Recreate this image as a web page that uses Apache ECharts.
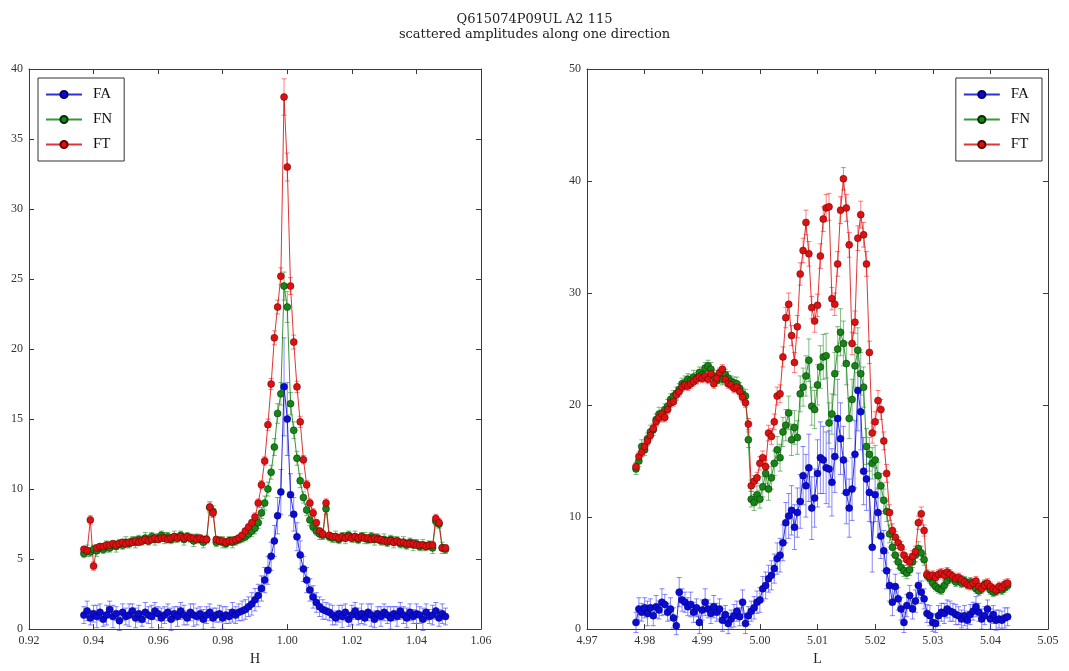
<!DOCTYPE html>
<html>
<head>
<meta charset="utf-8">
<script src="https://cdn.jsdelivr.net/npm/echarts@6/dist/echarts.min.js"></script>
<style>
  html, body { margin: 0; padding: 0; background: #fff; }
  #chart { width: 1069px; height: 671px; }
</style>
</head>
<body>
<div id="chart"></div>
<script>
// ---- left panel: scan along H ----
const hVals = [0.937,0.938,0.939,0.940,0.941,0.942,0.943,0.944,0.945,0.946,0.947,0.948,0.949,0.950,0.951,0.952,0.953,0.954,0.955,0.956,
  0.957,0.958,0.959,0.960,0.961,0.962,0.963,0.964,0.965,0.966,0.967,0.968,0.969,0.970,0.971,0.972,0.973,0.974,0.975,0.976,
  0.977,0.978,0.979,0.980,0.981,0.982,0.983,0.984,0.985,0.986,0.987,0.988,0.989,0.990,0.991,0.992,0.993,0.994,0.995,0.996,
  0.997,0.998,0.999,1.000,1.001,1.002,1.003,1.004,1.005,1.006,1.007,1.008,1.009,1.010,1.011,1.012,1.013,1.014,1.015,1.016,
  1.017,1.018,1.019,1.020,1.021,1.022,1.023,1.024,1.025,1.026,1.027,1.028,1.029,1.030,1.031,1.032,1.033,1.034,1.035,1.036,
  1.037,1.038,1.039,1.040,1.041,1.042,1.043,1.044,1.045,1.046,1.047,1.048,1.049];

const faH = [1.0,1.3,0.8,1.1,0.9,1.2,0.7,1.0,1.4,0.9, 1.1,0.6,1.2,0.9,1.0,1.3,0.8,1.1,0.7,1.2,
  1.0,0.9,1.3,1.1,0.8,1.0,1.2,0.7,1.1,0.9, 1.3,1.0,0.8,1.2,1.0,0.9,1.1,0.7,1.0,1.2,
  0.8,1.0,1.1,0.8,1.0,0.9,1.2,1.0,1.2,1.3, 1.4,1.6,1.8,2.1,2.4,2.9,3.5,4.2,5.2,6.3,
  8.1,9.8,17.3,15.0,9.6,8.2,6.6,5.3,4.3,3.5, 2.8,2.3,1.9,1.6,1.4,1.3,1.2,1.0,0.8,1.1,
  0.9,1.2,0.7,1.0,1.3,0.9,1.1,0.8,1.2,1.0, 0.7,1.1,0.9,1.2,1.0,0.8,1.1,0.9,1.3,1.0,
  0.8,1.2,0.9,1.1,1.0,0.7,1.2,0.9,1.0,1.3, 0.8,1.1,0.9];
const fnH = [5.4,5.6,5.5,5.7,5.6,5.8,5.7,5.9,5.8,6.0, 5.9,6.1,6.0,6.2,6.1,6.3,6.2,6.4,6.3,6.5,
  6.3,6.6,6.4,6.5,6.7,6.5,6.6,6.4,6.6,6.5, 6.7,6.4,6.6,6.5,6.3,6.5,6.4,6.2,6.4,8.7,
  8.4,6.2,6.3,6.2,6.1,6.3,6.2,6.3,6.4,6.5, 6.6,6.8,7.0,7.2,7.6,8.3,9.0,10.0,11.2,13.0,
  15.4,16.8,24.5,23.0,16.1,14.2,12.2,10.6,9.4,8.5, 7.8,7.3,7.0,6.8,6.7,8.6,6.6,6.5,6.6,6.4,
  6.6,6.5,6.7,6.5,6.6,6.4,6.6,6.5,6.4,6.6, 6.4,6.5,6.3,6.4,6.2,6.4,6.2,6.3,6.1,6.2,
  6.0,6.2,6.0,6.1,5.9,6.0,5.9,6.0,5.8,7.7, 7.5,5.8,5.7];
const ftH = [5.7,5.6,7.8,4.5,5.8,5.9,5.9,6.0,6.0,6.1, 6.0,6.1,6.2,6.1,6.2,6.2,6.3,6.2,6.3,6.4,
  6.3,6.4,6.5,6.4,6.5,6.5,6.4,6.5,6.6,6.5, 6.6,6.5,6.6,6.5,6.5,6.4,6.5,6.4,6.4,8.7,
  8.3,6.4,6.3,6.3,6.2,6.3,6.3,6.4,6.5,6.7, 7.0,7.3,7.6,8.0,9.0,10.3,12.0,14.6,17.5,20.8,
  23.0,25.2,38.0,33.0,24.5,20.5,17.3,14.8,12.1,10.3, 9.0,8.3,7.6,7.0,6.8,9.0,6.7,6.6,6.6,6.5,
  6.6,6.5,6.6,6.5,6.6,6.5,6.6,6.5,6.5,6.4, 6.5,6.4,6.4,6.3,6.3,6.3,6.2,6.3,6.2,6.2,
  6.1,6.1,6.1,6.0,6.0,6.0,5.9,6.0,6.0,7.9, 7.6,5.8,5.8];

const errFaH = [0.6,0.7,0.5,0.6,0.8,0.6,0.5,0.7,0.6,0.8, 0.5,0.7,0.6,0.6,0.8,0.5,0.7,0.6,0.5,0.7,
  0.6,0.8,0.6,0.5,0.7,0.6,0.6,0.8,0.5,0.7, 0.6,0.7,0.5,0.6,0.8,0.6,0.5,0.7,0.6,0.6,
  0.7,0.5,0.6,0.8,0.6,0.5,0.7,0.6,0.6,0.7, 0.7,0.7,0.8,0.8,0.8,0.9,0.9,1.0,1.0,1.1,
  1.3,1.6,3.5,2.6,1.5,1.2,1.0,1.0,0.9,0.9, 0.8,0.8,0.7,0.7,0.7,0.6,0.6,0.7,0.5,0.6,
  0.8,0.6,0.5,0.7,0.6,0.6,0.7,0.5,0.6,0.8, 0.6,0.5,0.7,0.6,0.6,0.8,0.5,0.7,0.6,0.6,
  0.7,0.6,0.5,0.7,0.6,0.8,0.6,0.5,0.7,0.6, 0.6,0.7,0.6];
const errFnH = [0.3,0.4,0.3,0.3,0.4,0.3,0.3,0.4,0.3,0.3, 0.4,0.3,0.3,0.4,0.3,0.3,0.4,0.3,0.3,0.4,
  0.3,0.3,0.4,0.3,0.3,0.4,0.3,0.3,0.4,0.3, 0.3,0.4,0.3,0.3,0.4,0.3,0.3,0.4,0.3,0.4,
  0.4,0.3,0.3,0.4,0.3,0.3,0.4,0.3,0.3,0.3, 0.3,0.3,0.4,0.4,0.4,0.4,0.5,0.5,0.5,0.6,
  0.7,0.8,1.0,1.1,0.8,0.6,0.5,0.5,0.4,0.4, 0.4,0.3,0.3,0.4,0.3,0.4,0.3,0.3,0.4,0.3,
  0.3,0.4,0.3,0.3,0.4,0.3,0.3,0.4,0.3,0.3, 0.4,0.3,0.3,0.4,0.3,0.3,0.4,0.3,0.3,0.4,
  0.3,0.3,0.4,0.3,0.3,0.4,0.3,0.3,0.4,0.3, 0.3,0.4,0.3];
const errFtH = [0.2,0.2,0.3,0.3,0.2,0.2,0.2,0.2,0.2,0.2, 0.2,0.2,0.2,0.2,0.2,0.2,0.2,0.2,0.2,0.2,
  0.2,0.2,0.2,0.2,0.2,0.2,0.2,0.2,0.2,0.2, 0.2,0.2,0.2,0.2,0.2,0.2,0.2,0.2,0.2,0.3,
  0.3,0.2,0.2,0.2,0.2,0.2,0.2,0.2,0.2,0.2, 0.2,0.2,0.2,0.3,0.3,0.3,0.3,0.4,0.4,0.5,
  0.5,0.6,1.3,1.0,0.6,0.5,0.4,0.4,0.3,0.3, 0.3,0.3,0.2,0.2,0.2,0.3,0.2,0.2,0.2,0.2,
  0.2,0.2,0.2,0.2,0.2,0.2,0.2,0.2,0.2,0.2, 0.2,0.2,0.2,0.2,0.2,0.2,0.2,0.2,0.2,0.2,
  0.2,0.2,0.2,0.2,0.2,0.2,0.2,0.2,0.2,0.3, 0.3,0.2,0.2];

// ---- right panel: scan along L ----
const lVals = [4.9785,4.9790,4.9795,4.9800,4.9805,4.9810,4.9815,4.9820,4.9825,4.9830,
  4.9835,4.9840,4.9845,4.9850,4.9855,4.9860,4.9865,4.9870,4.9875,4.9880,
  4.9885,4.9890,4.9895,4.9900,4.9905,4.9910,4.9915,4.9920,4.9925,4.9930,
  4.9935,4.9940,4.9945,4.9950,4.9955,4.9960,4.9965,4.9970,4.9975,4.9980,
  4.9985,4.9990,4.9995,5.0000,5.0005,5.0010,5.0015,5.0020,5.0025,5.0030,
  5.0035,5.0040,5.0045,5.0050,5.0055,5.0060,5.0065,5.0070,5.0075,5.0080,
  5.0085,5.0090,5.0095,5.0100,5.0105,5.0110,5.0115,5.0120,5.0125,5.0130,
  5.0135,5.0140,5.0145,5.0150,5.0155,5.0160,5.0165,5.0170,5.0175,5.0180,
  5.0185,5.0190,5.0195,5.0200,5.0205,5.0210,5.0215,5.0220,5.0225,5.0230,
  5.0235,5.0240,5.0245,5.0250,5.0255,5.0260,5.0265,5.0270,5.0275,5.0280,
  5.0285,5.0290,5.0295,5.0300,5.0305,5.0310,5.0315,5.0320,5.0325,5.0330,
  5.0335,5.0340,5.0345,5.0350,5.0355,5.0360,5.0365,5.0370,5.0375,5.0380,
  5.0385,5.0390,5.0395,5.0400,5.0405,5.0410,5.0415,5.0420,5.0425,5.0430];

const faL = [0.6,1.8,1.5,1.9,1.4,1.9,1.2,2.0,1.7,2.4, 2.2,1.5,1.8,1.0,0.3,3.3,2.6,2.4,2.0,2.2,
  1.5,1.9,0.6,1.7,2.4,1.8,1.4,2.0,1.5,1.8, 0.8,1.3,0.5,0.9,1.2,1.6,1.1,2.4,0.5,1.2,
  1.6,1.9,2.4,2.6,3.6,3.9,4.5,4.8,5.4,6.3, 6.6,7.7,9.5,10.1,10.6,9.1,10.4,11.4,13.7,12.8,
  14.4,10.8,11.7,13.9,15.3,15.1,14.4,14.3,13.1,15.4, 18.8,17.0,15.1,12.2,10.8,12.5,15.6,21.3,19.4,14.1,
  13.4,12.2,7.3,12.0,10.4,8.3,7.0,5.2,3.9,2.4, 3.8,2.7,1.8,0.6,2.1,3.0,1.8,2.5,3.9,3.3,
  2.7,1.4,1.2,0.6,0.5,1.2,1.5,1.4,1.8,1.6, 1.5,1.3,1.2,0.9,1.2,0.8,1.3,1.6,2.0,1.5,
  0.9,1.2,1.8,0.9,1.3,0.8,0.9,0.8,1.0,1.1];
const fnL = [14.3,15.0,16.3,16.0,17.0,17.6,17.8,18.7,19.2,19.0, 19.6,19.9,20.5,20.8,21.0,21.4,21.9,22.0,22.3,22.2,
  22.5,22.4,22.9,22.7,23.3,23.5,23.2,22.6,22.2,22.5, 22.3,22.7,22.4,22.1,22.0,21.9,21.5,21.0,20.8,16.9,
  11.6,11.3,12.0,11.6,12.7,13.9,12.5,13.5,14.8,16.0, 15.3,17.6,18.2,19.3,16.9,18.0,17.1,21.0,21.6,22.6,
  24.0,19.9,19.6,21.8,23.4,24.3,24.4,18.4,19.2,22.8, 25.0,26.5,25.5,23.7,18.8,20.5,23.5,24.9,22.8,21.6,
  16.3,15.6,14.8,15.1,13.7,12.8,11.5,10.5,8.5,7.3, 6.6,6.0,5.5,5.2,5.0,5.3,6.0,6.6,7.2,6.8,
  6.2,4.8,4.5,4.1,3.8,3.6,3.5,3.9,4.3,4.6, 4.5,4.2,4.4,4.1,4.3,4.0,4.2,3.9,3.6,3.4,
  3.7,4.0,3.8,3.5,3.3,3.4,3.6,3.5,3.7,3.9];
const ftL = [14.5,15.4,15.8,16.3,16.8,17.3,17.9,18.5,18.9,19.2, 18.9,19.6,20.2,20.3,20.9,21.2,21.6,21.8,21.7,21.9,
  22.1,22.3,22.5,22.4,22.6,22.3,22.8,21.9,22.4,22.9, 23.2,22.3,21.9,21.8,21.5,21.6,21.2,20.7,20.2,18.3,
  12.8,13.2,13.5,14.8,15.3,14.5,17.5,17.2,18.5,20.8, 21.0,24.3,27.8,29.0,26.2,23.8,27.0,31.7,33.8,36.3,
  33.5,28.7,27.5,28.9,33.3,36.6,37.6,37.7,29.5,29.0, 32.6,37.4,40.2,37.6,34.3,25.5,27.4,34.9,37.0,35.2,
  32.6,24.7,17.5,18.5,20.4,19.6,16.8,13.9,10.4,8.8, 8.2,7.7,7.3,6.6,6.2,6.0,6.5,6.9,9.5,10.3,
  8.8,4.9,4.7,4.8,4.6,4.9,5.0,4.8,5.1,4.9, 4.7,4.5,4.6,4.4,4.2,4.0,3.9,4.1,4.3,3.8,
  3.6,3.9,4.1,3.8,3.6,3.5,3.8,3.7,4.0,4.1];

const errFaL = [0.9,1.0,0.8,0.9,1.1,0.8,0.9,1.0,0.8,1.2, 0.9,0.8,1.0,0.9,0.8,1.3,1.0,0.9,0.8,1.1,
  0.9,0.8,1.0,0.9,1.2,0.8,0.9,1.0,0.8,0.9, 1.0,0.8,0.9,0.8,1.0,0.9,0.8,1.1,0.9,0.8,
  0.9,1.0,1.0,1.1,1.1,1.2,1.2,1.3,1.3,1.4, 1.5,1.6,1.8,2.0,2.2,2.0,2.2,2.4,2.6,2.8,
  3.0,2.8,2.6,3.0,3.2,3.0,3.2,3.4,3.0,3.2, 3.5,3.2,3.0,2.8,2.6,2.8,3.0,3.6,3.4,3.0,
  2.8,2.6,2.2,2.4,2.2,2.0,1.8,1.6,1.4,1.2, 1.1,1.0,1.0,0.9,1.0,0.9,0.9,1.0,1.1,1.0,
  0.9,0.8,0.9,0.8,0.8,0.9,0.8,0.9,0.8,0.9, 0.8,0.9,0.8,0.8,0.9,0.8,0.9,0.8,0.9,0.8,
  0.9,0.8,0.8,0.9,0.8,0.9,0.8,0.8,0.9,0.8];
const errFnL = [0.5,0.5,0.6,0.5,0.5,0.6,0.5,0.5,0.6,0.5, 0.5,0.6,0.5,0.5,0.6,0.5,0.5,0.6,0.5,0.5,
  0.6,0.5,0.5,0.6,0.5,0.5,0.6,0.5,0.5,0.6, 0.5,0.5,0.6,0.5,0.5,0.6,0.5,0.5,0.6,0.7,
  0.7,0.7,0.8,0.8,0.9,0.9,1.0,1.0,1.1,1.2, 1.2,1.3,1.4,1.5,1.4,1.5,1.5,1.6,1.7,1.8,
  1.9,1.7,1.7,1.8,1.9,2.0,2.0,1.8,1.8,1.9, 2.0,2.1,2.0,1.9,1.8,1.8,1.9,2.0,1.9,1.8,
  1.6,1.5,1.4,1.3,1.2,1.1,1.0,0.9,0.8,0.7, 0.6,0.6,0.5,0.5,0.5,0.5,0.5,0.6,0.6,0.6,
  0.5,0.4,0.4,0.4,0.4,0.4,0.4,0.4,0.4,0.4, 0.4,0.4,0.4,0.4,0.4,0.4,0.4,0.4,0.4,0.4,
  0.4,0.4,0.4,0.4,0.4,0.4,0.4,0.4,0.4,0.4];
const errFtL = [0.4,0.4,0.4,0.4,0.4,0.4,0.4,0.4,0.4,0.4, 0.4,0.4,0.4,0.4,0.4,0.4,0.4,0.4,0.4,0.4,
  0.4,0.4,0.4,0.4,0.4,0.4,0.4,0.4,0.4,0.4, 0.4,0.4,0.4,0.4,0.4,0.4,0.4,0.4,0.4,0.5,
  0.5,0.5,0.5,0.6,0.6,0.6,0.7,0.7,0.7,0.8, 0.8,0.9,0.9,1.0,0.9,0.9,1.0,1.0,1.1,1.1,
  1.1,1.0,1.0,1.0,1.1,1.1,1.2,1.2,1.0,1.0, 1.1,1.2,1.0,1.2,1.1,1.0,1.0,1.1,1.2,1.1,
  1.1,1.0,0.9,0.9,0.9,0.9,0.8,0.8,0.7,0.6, 0.5,0.5,0.5,0.5,0.5,0.5,0.5,0.5,0.6,0.6,
  0.5,0.4,0.4,0.4,0.4,0.4,0.4,0.4,0.4,0.4, 0.4,0.4,0.4,0.4,0.4,0.4,0.4,0.4,0.4,0.4,
  0.4,0.4,0.4,0.4,0.4,0.4,0.4,0.4,0.4,0.4];

const seriesNames = ['FA', 'FN', 'FT'];
const fillColors = ['#0b0bd6', '#168416', '#dc1212'];
const edgeColors = ['#000060', '#003000', '#600000'];
const errColors = ['rgba(40,40,255,0.55)', 'rgba(0,128,0,0.5)', 'rgba(255,0,0,0.5)'];

const serif = 'Liberation Serif';
const frame = '#3a3a3a';

function pts(xs, ys) {
  return xs.map((x, i) => [x, ys[i]]);
}
function errPts(xs, ys, es) {
  return xs.map((x, i) => [x, +(ys[i] - es[i]).toFixed(2), +(ys[i] + es[i]).toFixed(2)]);
}

function errRenderer(color) {
  return function (params, api) {
    const lo = api.coord([api.value(0), api.value(1)]);
    const hi = api.coord([api.value(0), api.value(2)]);
    const st = { stroke: color, lineWidth: 1 };
    return {
      type: 'group',
      children: [
        { type: 'line', shape: { x1: lo[0], y1: lo[1], x2: hi[0], y2: hi[1] }, style: st },
        { type: 'line', shape: { x1: lo[0] - 2.5, y1: lo[1], x2: lo[0] + 2.5, y2: lo[1] }, style: st },
        { type: 'line', shape: { x1: hi[0] - 2.5, y1: hi[1], x2: hi[0] + 2.5, y2: hi[1] }, style: st }
      ]
    };
  };
}

function panelSeries(xs, ysList, errList, axisIdx) {
  const out = [];
  for (let k = 0; k < 3; k++) {
    out.push({
      name: seriesNames[k] + ' err',
      type: 'custom',
      xAxisIndex: axisIdx,
      yAxisIndex: axisIdx,
      renderItem: errRenderer(errColors[k]),
      encode: { x: 0, y: [1, 2] },
      data: errPts(xs, ysList[k], errList[k]),
      silent: true,
      z: 2
    });
    out.push({
      name: seriesNames[k],
      type: 'line',
      xAxisIndex: axisIdx,
      yAxisIndex: axisIdx,
      data: pts(xs, ysList[k]),
      symbol: 'circle',
      symbolSize: 7,
      showAllSymbol: true,
      lineStyle: { color: fillColors[k], width: 1, opacity: 0.85 },
      itemStyle: { color: fillColors[k], borderColor: edgeColors[k], borderWidth: 0.5 },
      z: 2
    });
  }
  return out;
}

function xAxisPair(gridIndex, min, max, step, name) {
  const common = {
    type: 'value', gridIndex: gridIndex, min: min, max: max, interval: step,
    splitLine: { show: false },
    axisLine: { show: true, onZero: false, lineStyle: { color: frame, width: 1 } },
    axisTick: { show: true, inside: true, length: 5, lineStyle: { color: frame } }
  };
  return [
    Object.assign({}, common, {
      position: 'bottom',
      name: name, nameLocation: 'middle', nameGap: 22,
      nameTextStyle: { fontFamily: serif, fontSize: 14, color: '#222' },
      axisLabel: {
        fontFamily: serif, fontSize: 12, color: '#333', margin: 6,
        formatter: v => v.toFixed(2)
      }
    }),
    Object.assign({}, common, { position: 'top', axisLabel: { show: false } })
  ];
}

function yAxisPair(gridIndex, max, step) {
  const common = {
    type: 'value', gridIndex: gridIndex, min: 0, max: max, interval: step,
    splitLine: { show: false },
    axisLine: { show: true, onZero: false, lineStyle: { color: frame, width: 1 } },
    axisTick: { show: true, inside: true, length: 5, lineStyle: { color: frame } }
  };
  return [
    Object.assign({}, common, {
      position: 'left',
      axisLabel: { fontFamily: serif, fontSize: 12, color: '#333', margin: 6 }
    }),
    Object.assign({}, common, { position: 'right', axisLabel: { show: false } })
  ];
}

function legendBox(pos) {
  return Object.assign({
    data: seriesNames,
    orient: 'vertical',
    top: 78,
    itemWidth: 36,
    itemHeight: 9,
    itemGap: 10,
    padding: [9, 12, 9, 7],
    borderColor: '#333',
    borderWidth: 1,
    backgroundColor: '#fff',
    textStyle: { fontFamily: serif, fontSize: 15, color: '#111', padding: [0, 0, 0, 6] }
  }, pos);
}

const chart = echarts.init(document.getElementById('chart'));

const xa = xAxisPair(0, 0.92, 1.06, 0.02, 'H').concat(xAxisPair(1, 4.97, 5.05, 0.01, 'L'));
const ya = yAxisPair(0, 40, 5).concat(yAxisPair(1, 50, 10));

chart.setOption({
  animation: false,
  backgroundColor: '#fff',
  title: {
    text: 'Q615074P09UL A2 115',
    subtext: 'scattered amplitudes along one direction',
    left: 'center',
    top: 8,
    itemGap: 2,
    textStyle: { fontFamily: 'DejaVu Serif', fontSize: 13, fontWeight: 'normal', color: '#222' },
    subtextStyle: { fontFamily: 'DejaVu Serif', fontSize: 13, color: '#222' }
  },
  grid: [
    { left: 29, top: 69, width: 452, height: 565 },
    { left: 587, top: 69, width: 461, height: 565 }
  ],
  legend: [
    legendBox({ left: 38 }),
    legendBox({ right: 27 })
  ],
  xAxis: xa,
  yAxis: ya,
  series: panelSeries(hVals, [faH, fnH, ftH], [errFaH, errFnH, errFtH], 0)
    .concat(panelSeries(lVals, [faL, fnL, ftL], [errFaL, errFnL, errFtL], 2))
});
</script>
</body>
</html>
